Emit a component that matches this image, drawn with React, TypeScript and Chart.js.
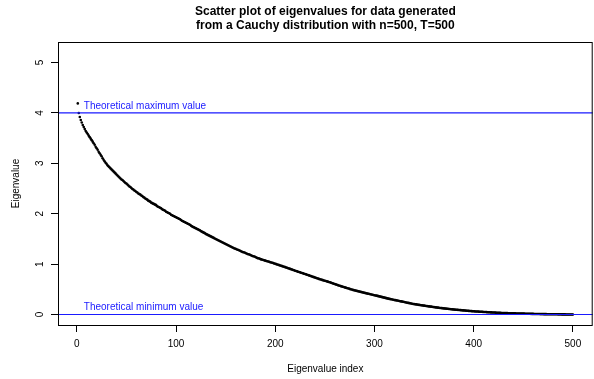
import React, { useEffect, useRef } from "react";
import { Chart, registerables } from "chart.js";

Chart.register(...registerables);

// Sorted eigenvalues (largest first), one per index 1..500
const eigenvalues: number[] = [
  4.19, 4.0, 3.92, 3.86, 3.81, 3.76, 3.72, 3.68, 3.64, 3.61,
  3.58, 3.55, 3.52, 3.49, 3.46, 3.43, 3.4, 3.37, 3.33, 3.3,
  3.27, 3.23, 3.2, 3.17, 3.14, 3.1, 3.07, 3.04, 3.01, 2.99,
  2.96, 2.94, 2.92, 2.9, 2.88, 2.86, 2.84, 2.82, 2.8, 2.78,
  2.76, 2.74, 2.72, 2.7, 2.68, 2.67, 2.65, 2.63, 2.61, 2.6,
  2.58, 2.56, 2.54, 2.53, 2.51, 2.49, 2.48, 2.46, 2.45, 2.43,
  2.42, 2.4, 2.39, 2.38, 2.36, 2.35, 2.33, 2.32, 2.3, 2.29,
  2.28, 2.26, 2.25, 2.24, 2.22, 2.21, 2.2, 2.19, 2.18, 2.17,
  2.15, 2.14, 2.13, 2.12, 2.11, 2.09, 2.08, 2.07, 2.06, 2.04,
  2.03, 2.02, 2.01, 2.0, 1.98, 1.97, 1.96, 1.95, 1.94, 1.93,
  1.92, 1.91, 1.9, 1.89, 1.875, 1.86, 1.85, 1.84, 1.83, 1.82,
  1.81, 1.8, 1.79, 1.78, 1.765, 1.75, 1.74, 1.73, 1.72, 1.71,
  1.7, 1.69, 1.68, 1.67, 1.655, 1.645, 1.635, 1.625, 1.615, 1.6,
  1.59, 1.58, 1.57, 1.56, 1.55, 1.54, 1.53, 1.52, 1.51, 1.5,
  1.49, 1.48, 1.47, 1.46, 1.45, 1.44, 1.43, 1.42, 1.41, 1.4,
  1.39, 1.38, 1.37, 1.36, 1.35, 1.34, 1.33, 1.32, 1.31, 1.305,
  1.295, 1.285, 1.28, 1.27, 1.26, 1.25, 1.24, 1.236, 1.23, 1.22,
  1.21, 1.2, 1.196, 1.19, 1.18, 1.17, 1.16, 1.156, 1.15, 1.14,
  1.13, 1.12, 1.116, 1.11, 1.1, 1.094, 1.088, 1.082, 1.075, 1.069,
  1.063, 1.057, 1.051, 1.045, 1.038, 1.032, 1.026, 1.02, 1.013, 1.007,
  1.0, 0.993, 0.987, 0.98, 0.973, 0.967, 0.96, 0.953, 0.947, 0.94,
  0.933, 0.926, 0.919, 0.912, 0.905, 0.898, 0.891, 0.884, 0.877, 0.87,
  0.863, 0.857, 0.85, 0.843, 0.837, 0.83, 0.823, 0.817, 0.81, 0.803,
  0.797, 0.79, 0.783, 0.776, 0.769, 0.762, 0.755, 0.748, 0.742, 0.735,
  0.728, 0.721, 0.714, 0.707, 0.7, 0.694, 0.688, 0.682, 0.676, 0.67,
  0.664, 0.658, 0.652, 0.646, 0.64, 0.633, 0.626, 0.619, 0.612, 0.605,
  0.598, 0.591, 0.584, 0.577, 0.57, 0.564, 0.558, 0.552, 0.545, 0.539,
  0.533, 0.527, 0.521, 0.515, 0.508, 0.502, 0.496, 0.49, 0.485, 0.48,
  0.475, 0.47, 0.465, 0.46, 0.455, 0.45, 0.445, 0.44, 0.435, 0.43,
  0.425, 0.42, 0.415, 0.411, 0.406, 0.402, 0.397, 0.392, 0.388, 0.383,
  0.378, 0.374, 0.369, 0.365, 0.36, 0.355, 0.35, 0.345, 0.34, 0.335,
  0.33, 0.325, 0.32, 0.315, 0.31, 0.306, 0.302, 0.298, 0.293, 0.289,
  0.285, 0.281, 0.277, 0.273, 0.268, 0.264, 0.26, 0.256, 0.252, 0.248,
  0.243, 0.239, 0.235, 0.231, 0.227, 0.223, 0.218, 0.214, 0.21, 0.207,
  0.204, 0.201, 0.198, 0.195, 0.191, 0.188, 0.185, 0.182, 0.179, 0.176,
  0.173, 0.17, 0.167, 0.164, 0.161, 0.159, 0.156, 0.153, 0.15, 0.147,
  0.144, 0.141, 0.139, 0.136, 0.133, 0.13, 0.128, 0.126, 0.124, 0.121,
  0.119, 0.117, 0.115, 0.113, 0.111, 0.109, 0.106, 0.104, 0.102, 0.1,
  0.098, 0.096, 0.094, 0.093, 0.091, 0.089, 0.087, 0.085, 0.083, 0.082,
  0.08, 0.078, 0.076, 0.074, 0.072, 0.071, 0.069, 0.067, 0.065, 0.064,
  0.063, 0.061, 0.06, 0.059, 0.058, 0.056, 0.055, 0.054, 0.053, 0.051,
  0.05, 0.049, 0.048, 0.046, 0.045, 0.044, 0.043, 0.042, 0.041, 0.04,
  0.039, 0.037, 0.036, 0.035, 0.034, 0.033, 0.032, 0.031, 0.03, 0.029,
  0.029, 0.028, 0.028, 0.027, 0.026, 0.026, 0.025, 0.024, 0.024, 0.023,
  0.023, 0.022, 0.021, 0.021, 0.02, 0.019, 0.019, 0.018, 0.018, 0.017,
  0.017, 0.016, 0.016, 0.015, 0.014, 0.014, 0.013, 0.013, 0.012, 0.012,
  0.011, 0.011, 0.01, 0.0097, 0.0094, 0.0091, 0.0088, 0.0085, 0.0082, 0.0079,
  0.0076, 0.0074, 0.0071, 0.0068, 0.0065, 0.0062, 0.0059, 0.0056, 0.0053, 0.005,
  0.0048, 0.0045, 0.0043, 0.004, 0.0038, 0.0035, 0.0033, 0.003, 0.0028, 0.0025,
  0.0023, 0.002, 0.0018, 0.0015, 0.0013, 0.001, 0.0008, 0.0005, 0.0003, 0.0001,
];

const eigenIndex: number[] = eigenvalues.map((_, i) => i + 1);

const xTicks: number[] = [0, 100, 200, 300, 400, 500];
const yTicks: number[] = [0, 1, 2, 3, 4, 5];

// Theoretical bounds of the spectrum and their captions
const boundValues: number[] = [4, 0];
const boundLabels: string[] = ["Theoretical maximum value", "Theoretical minimum value"];

const titleLines: string[] = [
  "Scatter plot of eigenvalues for data generated",
  "from a Cauchy distribution with n=500, T=500",
];
const xTitle = "Eigenvalue index";
const yTitle = "Eigenvalue";

const FONT = '"Liberation Sans", Arial, Helvetica, sans-serif';
const BLUE = "#1a1aff";

// Axis ranges padded by 4% as in base R graphics
const X_MIN = 1 - 0.04 * 499;
const X_MAX = 500 + 0.04 * 499;
const Y_MIN = 0 - 0.04 * 5.2;
const Y_MAX = 5.2 + 0.04 * 5.2;

const decorations = {
  id: "decorations",
  afterDatasetsDraw(chart: any) {
    const { ctx, chartArea: a, scales } = chart;
    const xs = scales.x;
    const ys = scales.y;
    ctx.save();
    ctx.strokeStyle = BLUE;
    ctx.lineWidth = 1.2;
    ctx.fillStyle = BLUE;
    ctx.font = `10px ${FONT}`;
    ctx.textAlign = "left";
    ctx.textBaseline = "middle";
    boundValues.forEach((v, i) => {
      const py = ys.getPixelForValue(v);
      ctx.beginPath();
      ctx.moveTo(a.left, py);
      ctx.lineTo(a.right, py);
      ctx.stroke();
      ctx.fillText(boundLabels[i], xs.getPixelForValue(1) + 6, py - 7);
    });
    ctx.restore();
  },
  afterDraw(chart: any) {
    const { ctx, chartArea: a, scales } = chart;
    const ys = scales.y;
    ctx.save();
    // plot box
    ctx.strokeStyle = "#000";
    ctx.lineWidth = 1;
    ctx.strokeRect(a.left + 0.5, a.top + 0.5, a.right - a.left - 1, a.bottom - a.top);

    ctx.fillStyle = "#000";
    // y tick labels, written along the axis
    ctx.font = `10px ${FONT}`;
    ctx.textAlign = "center";
    ctx.textBaseline = "middle";
    yTicks.forEach((v) => {
      const py = ys.getPixelForValue(v);
      ctx.save();
      ctx.translate(40, py);
      ctx.rotate(-Math.PI / 2);
      ctx.fillText(String(v), 0, 0);
      ctx.restore();
    });

    // axis titles
    const cx = (a.left + a.right) / 2;
    const cy = (a.top + a.bottom) / 2;
    ctx.fillText(xTitle, cx, 369);
    ctx.save();
    ctx.translate(16, cy);
    ctx.rotate(-Math.PI / 2);
    ctx.fillText(yTitle, 0, 0);
    ctx.restore();

    // main title
    ctx.font = `bold 12px ${FONT}`;
    titleLines.forEach((line, i) => {
      ctx.fillText(line, cx, 12 + i * 14);
    });
    ctx.restore();
  },
};

export default function App() {
  const canvasRef = useRef<HTMLCanvasElement | null>(null);

  useEffect(() => {
    const canvas = canvasRef.current;
    if (!canvas) return;
    const points = eigenIndex.map((x, i) => ({ x, y: eigenvalues[i] }));
    const chart = new Chart(canvas, {
      type: "scatter",
      data: {
        datasets: [
          {
            data: points,
            pointRadius: 1.3,
            pointHoverRadius: 1.3,
            pointBackgroundColor: "#000",
            pointBorderWidth: 0,
            showLine: false,
          },
        ],
      },
      options: {
        responsive: false,
        animation: false,
        devicePixelRatio: 1,
        events: [],
        layout: { padding: { top: 42, right: 1, left: 0, bottom: 0 } },
        plugins: {
          legend: { display: false },
          tooltip: { enabled: false },
          title: { display: false },
        },
        scales: {
          x: {
            type: "linear",
            min: X_MIN,
            max: X_MAX,
            afterBuildTicks: (scale: any) => {
              scale.ticks = xTicks.map((value) => ({ value }));
            },
            afterFit: (scale: any) => {
              scale.height = 54;
            },
            grid: {
              display: true,
              drawOnChartArea: false,
              drawTicks: true,
              tickLength: 7,
              color: "#000",
              lineWidth: 1,
            },
            border: { display: false },
            ticks: {
              color: "#000",
              font: { family: FONT, size: 10 },
              padding: 6,
              maxRotation: 0,
              autoSkip: false,
            },
          },
          y: {
            type: "linear",
            min: Y_MIN,
            max: Y_MAX,
            afterBuildTicks: (scale: any) => {
              scale.ticks = yTicks.map((value) => ({ value }));
            },
            afterFit: (scale: any) => {
              scale.width = 58;
            },
            grid: {
              display: true,
              drawOnChartArea: false,
              drawTicks: true,
              tickLength: 7,
              color: "#000",
              lineWidth: 1,
            },
            border: { display: false },
            ticks: { display: false },
          },
        },
      },
      plugins: [decorations],
    });
    return () => chart.destroy();
  }, []);

  return (
    <div style={{ position: "fixed", left: 0, top: 0, width: 594, height: 379, background: "#fff" }}>
      <canvas ref={canvasRef} width={594} height={379} style={{ display: "block" }} />
    </div>
  );
}
